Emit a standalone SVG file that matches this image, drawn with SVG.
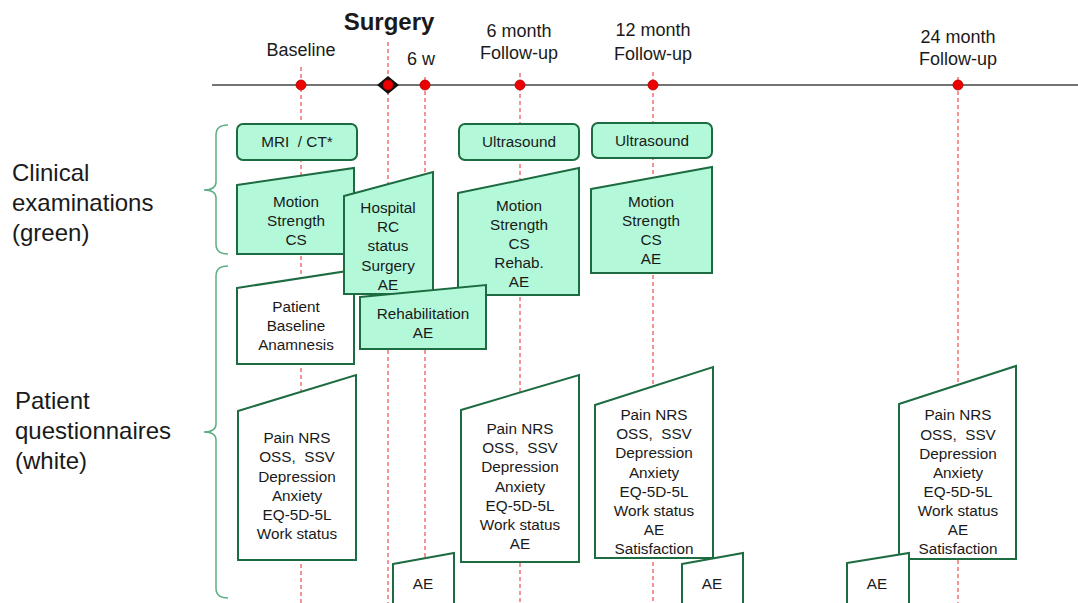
<svg xmlns="http://www.w3.org/2000/svg" width="1078" height="603" viewBox="0 0 1078 603">
<style>
text{font-family:"Liberation Sans",Arial,sans-serif;fill:#1a1a1a;text-anchor:middle;white-space:pre}
.bx{font-size:15.3px}
.tl{font-size:18px}
.side{font-size:24px;text-anchor:start}
.g{fill:#b3f9d9;stroke:#1d6b40;stroke-width:2}
.w{fill:#ffffff;stroke:#1d6b40;stroke-width:2}
.dash{stroke:#f25a5a;stroke-width:1.3;stroke-dasharray:4 3;fill:none}
.brace{fill:none;stroke:#5cae84;stroke-width:1.5}
.dot{fill:#ee0000;stroke:#b00000;stroke-width:0.8}
</style>
<rect width="1078" height="603" fill="#ffffff"/>
<g id="connectors">
<line x1="212" y1="85" x2="1078" y2="85" stroke="#444" stroke-width="1.3"/>
<line class="dash" x1="301" y1="67" x2="301" y2="603"/>
<line class="dash" x1="388" y1="42" x2="388" y2="603"/>
<line class="dash" x1="425" y1="77" x2="425" y2="603"/>
<line class="dash" x1="520" y1="73" x2="520" y2="603"/>
<line class="dash" x1="653" y1="72" x2="653" y2="603"/>
<line class="dash" x1="958" y1="77" x2="958" y2="603"/>
<path class="brace" d="M228,125 Q216,125 216,135 L216,182 Q216,190 204,190 Q216,190 216,198 L216,244 Q216,254 228,254"/>
<path class="brace" d="M228,266 Q216,266 216,276 L216,424 Q216,432 204,432 Q216,432 216,440 L216,588 Q216,598 228,598"/>
</g>
<g id="timeline">
<text x="389" y="30" style="font-size:24px;font-weight:bold">Surgery</text>
<text class="tl" x="301" y="56">Baseline</text>
<text class="tl" x="421" y="65">6 w</text>
<text class="tl" x="519" y="37">6 month</text>
<text class="tl" x="519" y="59">Follow-up</text>
<text class="tl" x="653" y="36">12 month</text>
<text class="tl" x="653" y="60">Follow-up</text>
<text class="tl" x="958" y="43">24 month</text>
<text class="tl" x="958" y="65">Follow-up</text>
<circle class="dot" cx="301" cy="85" r="5"/>
<polygon points="377,85 388,76 399,85 388,94" fill="#111"/>
<circle class="dot" cx="388" cy="85" r="5"/>
<circle class="dot" cx="425" cy="85" r="5"/>
<circle class="dot" cx="520" cy="85" r="5"/>
<circle class="dot" cx="653" cy="85" r="5"/>
<circle class="dot" cx="958" cy="85" r="5"/>
</g>
<g id="labels">
<text class="side" x="12" y="181">Clinical</text>
<text class="side" x="12" y="211">examinations</text>
<text class="side" x="12" y="241">(green)</text>
<text class="side" x="15" y="409">Patient</text>
<text class="side" x="15" y="439">questionnaires</text>
<text class="side" x="15" y="469">(white)</text>
</g>
<g id="mri">
<rect class="g" x="237" y="124" width="120" height="36" rx="6"/>
<text class="bx" x="297" y="147">MRI  / CT*</text>
</g>
<g id="us6">
<rect class="g" x="459" y="124" width="120" height="36" rx="6"/>
<text class="bx" x="519" y="147">Ultrasound</text>
</g>
<g id="us12">
<rect class="g" x="592" y="123" width="120" height="35" rx="6"/>
<text class="bx" x="652" y="146">Ultrasound</text>
</g>
<g id="clin-base">
<polygon class="g" points="237,185 354,168 354,254 237,254"/>
<text class="bx" x="296" y="207">Motion</text>
<text class="bx" x="296" y="226">Strength</text>
<text class="bx" x="296" y="245">CS</text>
</g>
<g id="pat-base">
<polygon class="w" points="237,288 354,270 354,364 237,364"/>
<text class="bx" x="296" y="312">Patient</text>
<text class="bx" x="296" y="331">Baseline</text>
<text class="bx" x="296" y="350">Anamnesis</text>
</g>
<g id="hospital">
<polygon class="g" points="344,196 433,172 433,294 344,294"/>
<text class="bx" x="388" y="213">Hospital</text>
<text class="bx" x="388" y="232">RC</text>
<text class="bx" x="388" y="251">status</text>
<text class="bx" x="388" y="271">Surgery</text>
<text class="bx" x="388" y="290">AE</text>
</g>
<g id="clin-6m">
<polygon class="g" points="458,193 579,168 579,295 458,295"/>
<text class="bx" x="519" y="211">Motion</text>
<text class="bx" x="519" y="230">Strength</text>
<text class="bx" x="519" y="249">CS</text>
<text class="bx" x="519" y="268">Rehab.</text>
<text class="bx" x="519" y="287">AE</text>
</g>
<g id="rehab">
<polygon class="g" points="360,297 486,285 486,349 360,349"/>
<text class="bx" x="423" y="319">Rehabilitation</text>
<text class="bx" x="423" y="338">AE</text>
</g>
<g id="clin-12m">
<polygon class="g" points="591,189 712,167 712,273 591,273"/>
<text class="bx" x="651" y="207">Motion</text>
<text class="bx" x="651" y="226">Strength</text>
<text class="bx" x="651" y="245">CS</text>
<text class="bx" x="651" y="264">AE</text>
</g>
<g id="q-base">
<polygon class="w" points="238,411 356,375 356,560 238,560"/>
<text class="bx" x="297" y="443">Pain NRS</text>
<text class="bx" x="297" y="462">OSS,  SSV</text>
<text class="bx" x="297" y="482">Depression</text>
<text class="bx" x="297" y="501">Anxiety</text>
<text class="bx" x="297" y="520">EQ-5D-5L</text>
<text class="bx" x="297" y="539">Work status</text>
</g>
<g id="q-6m">
<polygon class="w" points="461,410 579,375 579,562 461,562"/>
<text class="bx" x="520" y="434">Pain NRS</text>
<text class="bx" x="520" y="453">OSS,  SSV</text>
<text class="bx" x="520" y="472">Depression</text>
<text class="bx" x="520" y="492">Anxiety</text>
<text class="bx" x="520" y="511">EQ-5D-5L</text>
<text class="bx" x="520" y="530">Work status</text>
<text class="bx" x="520" y="549">AE</text>
</g>
<g id="q-12m">
<polygon class="w" points="595,405 713,367 713,558 595,558"/>
<text class="bx" x="654" y="420">Pain NRS</text>
<text class="bx" x="654" y="439">OSS,  SSV</text>
<text class="bx" x="654" y="458">Depression</text>
<text class="bx" x="654" y="478">Anxiety</text>
<text class="bx" x="654" y="497">EQ-5D-5L</text>
<text class="bx" x="654" y="516">Work status</text>
<text class="bx" x="654" y="535">AE</text>
<text class="bx" x="654" y="554">Satisfaction</text>
</g>
<g id="q-24m">
<polygon class="w" points="899,404 1016,366 1016,559 899,559"/>
<text class="bx" x="958" y="420">Pain NRS</text>
<text class="bx" x="958" y="440">OSS,  SSV</text>
<text class="bx" x="958" y="459">Depression</text>
<text class="bx" x="958" y="478">Anxiety</text>
<text class="bx" x="958" y="497">EQ-5D-5L</text>
<text class="bx" x="958" y="516">Work status</text>
<text class="bx" x="958" y="535">AE</text>
<text class="bx" x="958" y="554">Satisfaction</text>
</g>
<g id="ae-6w">
<polygon class="w" points="393,564 454,553 454,610 393,610"/>
<text class="bx" x="423" y="589">AE</text>
</g>
<g id="ae-12m">
<polygon class="w" points="682,564 743,553 743,610 682,610"/>
<text class="bx" x="712" y="589">AE</text>
</g>
<g id="ae-24m">
<polygon class="w" points="847,563 909,553 909,610 847,610"/>
<text class="bx" x="877" y="589">AE</text>
</g>
</svg>
